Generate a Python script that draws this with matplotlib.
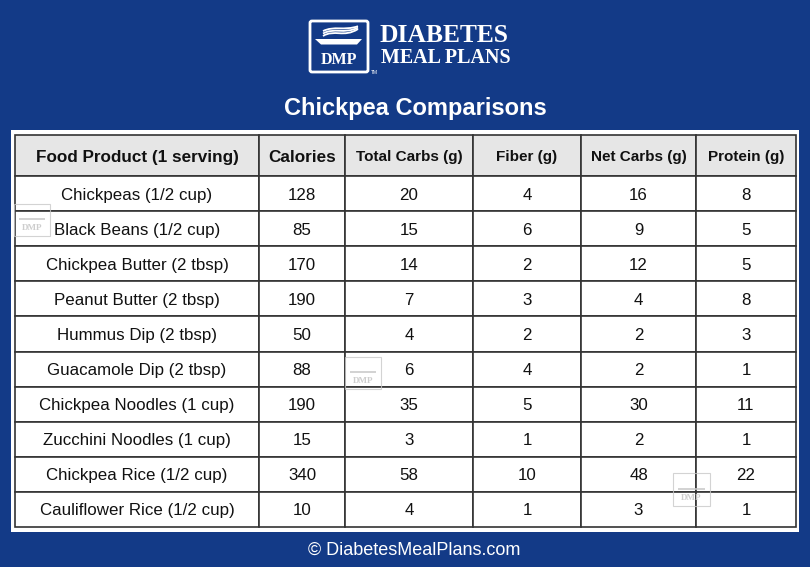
import matplotlib
matplotlib.use('Agg')
import matplotlib.pyplot as plt
from matplotlib.patches import Rectangle, FancyBboxPatch, PathPatch
from matplotlib.path import Path

# ---- data ----
headers = ["Food Product (1 serving)", "Calories", "Total Carbs (g)", "Fiber (g)",
           "Net Carbs (g)", "Protein (g)"]
foods = ["Chickpeas (1/2 cup)", "Black Beans (1/2 cup)", "Chickpea Butter (2 tbsp)",
         "Peanut Butter (2 tbsp)", "Hummus Dip (2 tbsp)", "Guacamole Dip (2 tbsp)",
         "Chickpea Noodles (1 cup)", "Zucchini Noodles (1 cup)", "Chickpea Rice (1/2 cup)",
         "Cauliflower Rice (1/2 cup)"]
calories = [128, 85, 170, 190, 50, 88, 190, 15, 340, 10]
total_carbs = [20, 15, 14, 7, 4, 6, 35, 3, 58, 4]
fiber = [4, 6, 2, 3, 2, 4, 5, 1, 10, 1]
net_carbs = [16, 9, 12, 4, 2, 2, 30, 2, 48, 3]
protein = [8, 5, 5, 8, 3, 1, 11, 1, 22, 1]
title = "Chickpea Comparisons"
footer = "\u00a9 DiabetesMealPlans.com"

BLUE = '#133a87'
W, H = 810, 567

fig = plt.figure(figsize=(8.1, 5.67), dpi=100)
fig.patch.set_facecolor(BLUE)
ax = fig.add_axes([0, 0, 1, 1])
ax.set_xlim(0, W)
ax.set_ylim(H, 0)
ax.axis('off')
ax.set_facecolor(BLUE)

# white panel
ax.add_patch(Rectangle((11, 130), 788, 402, fc='white', ec='none', zorder=1))

# ---- logo ----
ax.add_patch(FancyBboxPatch((310, 21), 58, 51, boxstyle='round,pad=0,rounding_size=2',
                            fc='none', ec='white', lw=2, zorder=2))
for dy in (0, 3.5, 7):
    verts = [(323, 36 - dy * 0.7), (334, 29 - dy * 0.5), (344, 38 - dy), (358, 29 - dy * 0.4)]
    ax.add_patch(PathPatch(Path(verts, [Path.MOVETO, Path.CURVE4, Path.CURVE4, Path.CURVE4]),
                           fc='none', ec='white', lw=1.3, zorder=2))
plate = [(315, 39), (362, 39), (357, 44.5), (321, 44.5), (315, 39)]
ax.add_patch(PathPatch(Path(plate, [Path.MOVETO, Path.LINETO, Path.LINETO, Path.LINETO, Path.CLOSEPOLY]),
                       fc='white', ec='none', zorder=2))
ax.text(339, 60, "DMP", color='white', fontsize=11.5, fontweight='bold',
        family='Liberation Serif', ha='center', va='center', zorder=3)
ax.text(374, 73, "TM", color='white', fontsize=3.5, family='Liberation Sans',
        ha='center', va='center')
ax.text(380, 36, "DIABETES", color='white', fontsize=18.4, fontweight='bold',
        family='Liberation Serif', ha='left', va='center')
ax.text(381, 58, "MEAL PLANS", color='white', fontsize=14.4, fontweight='bold',
        family='Liberation Serif', ha='left', va='center')

# title
ax.text(415, 108, title, color='white', fontsize=17, fontweight='bold',
        family='Liberation Sans', ha='center', va='center')

# ---- table ----
col_px = [244, 86, 128, 108, 115, 100]
tot = sum(col_px)
rows = [[f, str(c), str(t), str(fi), str(n), str(p)]
        for f, c, t, fi, n, p in zip(foods, calories, total_carbs, fiber, net_carbs, protein)]
tbl = ax.table(cellText=rows, colLabels=headers, cellLoc='center',
               colWidths=[w / tot for w in col_px],
               bbox=[15 / W, (H - 527) / H, tot / W, 392 / H])
tbl.auto_set_font_size(False)
for (r, c), cell in tbl.get_celld().items():
    cell.set_edgecolor('#333333')
    cell.set_linewidth(1.2)
    cell.set_height(41 if r == 0 else 35.1)
    t = cell.get_text()
    t.set_fontfamily('Liberation Sans')
    t.set_color('#111111')
    t.set_verticalalignment('center_baseline')
    if r == 0:
        cell.set_facecolor('#e6e6e6')
        t.set_fontweight('bold')
        t.set_fontsize(12.3 if c < 2 else 11)
    else:
        cell.set_facecolor('white')
        t.set_fontsize(12.2)
tbl.set_zorder(2)

# ---- watermarks ----
def watermark(x, y, w, h):
    col = '#c8c8c8'
    ax.add_patch(Rectangle((x, y), w, h, fc='none', ec=col, lw=0.8, alpha=0.8, zorder=5))
    ax.add_patch(Rectangle((x + 5, y + h * 0.45), w - 10, 2, fc=col, ec='none', alpha=0.8, zorder=5))
    ax.text(x + w / 2, y + h * 0.75, "DMP", color=col, fontsize=6.5, fontweight='bold',
            family='Liberation Serif', ha='center', va='center', alpha=0.9, zorder=5)

watermark(14, 204, 36, 32)
watermark(345, 357, 36, 32)
watermark(673, 473, 37, 33)

# footer
ax.text(414, 550, footer, color='white', fontsize=13, family='Liberation Sans',
        ha='center', va='center')

fig.savefig('out.png', dpi=100, facecolor=BLUE)
